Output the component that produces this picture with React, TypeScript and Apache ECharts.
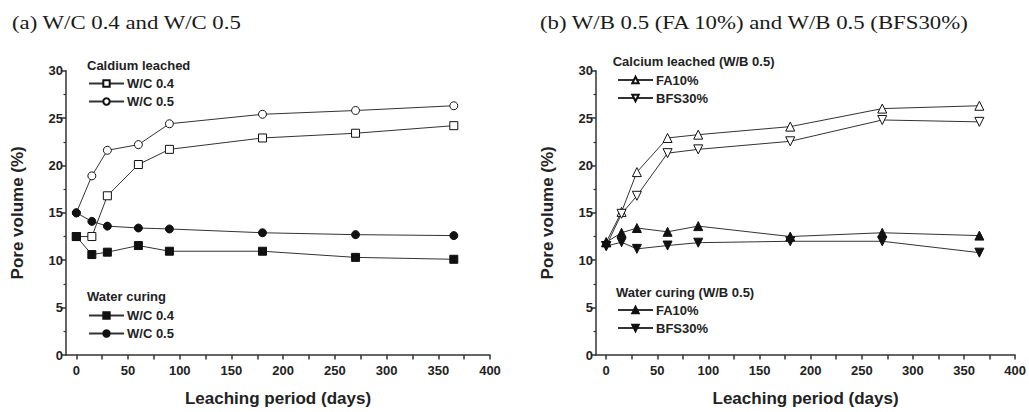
import React, { useEffect, useRef } from "react";
import * as echarts from "echarts";

const daysA = [0, 15, 30, 60, 90, 180, 270, 365];
const leachedWC04 = [12.5, 12.5, 16.8, 20.1, 21.7, 22.9, 23.4, 24.2];
const leachedWC05 = [15.0, 18.9, 21.6, 22.2, 24.4, 25.4, 25.8, 26.3];
const waterWC04 = [12.5, 10.6, 10.85, 11.55, 10.95, 10.95, 10.3, 10.1];
const waterWC05 = [15.0, 14.1, 13.6, 13.4, 13.3, 12.9, 12.7, 12.6];

const daysB = [0, 15, 30, 60, 90, 180, 270, 365];
const leachedFA10 = [11.9, 15.1, 19.3, 22.9, 23.25, 24.1, 26.0, 26.3];
const leachedBFS30 = [11.5, 14.9, 16.8, 21.3, 21.7, 22.55, 24.8, 24.6];
const waterFA10 = [11.9, 12.9, 13.4, 13.0, 13.6, 12.5, 12.9, 12.6];
const waterBFS30 = [11.5, 11.9, 11.2, 11.55, 11.85, 12.0, 12.0, 10.8];

const xLabelTicks = [0, 50, 100, 150, 200, 250, 300, 350, 400];
const xAllTicks = [0, 25, 50, 75, 100, 125, 150, 175, 200, 225, 250, 275, 300, 325, 350, 375, 400];

const TEXT = "#222";
const LINE = "#333";
const FONT = "'Liberation Sans', Arial, sans-serif";

function pair(a: number[], b: number[]) {
  return a.map((d, i) => [d, b[i]]);
}

export default function App() {
  const ref = useRef<HTMLDivElement>(null);
  useEffect(() => {
    if (!ref.current) return;
    const chart = echarts.init(ref.current, null, { renderer: "svg" });

    const grids = [
      { left: 66, width: 424, top: 70.7, height: 286.3 },
      { left: 596, width: 421, top: 70.7, height: 286.3 },
    ];

    const xAxes: any[] = [];
    const yAxes: any[] = [];
    [0, 1].forEach((g) => {
      xAxes.push({
        type: "value",
        gridIndex: g,
        position: "bottom",
        min: -10,
        max: 400,
        name: "Leaching period (days)",
        nameLocation: "middle",
        nameGap: 35,
        nameTextStyle: { fontFamily: FONT, fontWeight: "bold", fontSize: 17, color: TEXT },
        axisLine: { show: true, onZero: false, lineStyle: { color: LINE, width: 1.5 } },
        axisTick: { show: true, length: 4.5, customValues: xAllTicks, lineStyle: { color: LINE, width: 1.5 } },
        axisLabel: { show: true, customValues: xLabelTicks, margin: 9, fontFamily: FONT, fontWeight: "bold", fontSize: 13, color: TEXT },
        splitLine: { show: false },
      });
      yAxes.push({
        type: "value",
        gridIndex: g,
        min: 0,
        max: 30,
        interval: 5,
        name: "Pore volume (%)",
        nameLocation: "middle",
        nameGap: 40,
        nameTextStyle: { fontFamily: FONT, fontWeight: "bold", fontSize: 17, color: TEXT },
        axisLine: { show: true, onZero: false, lineStyle: { color: LINE, width: 1.5 } },
        axisTick: { show: true, length: 5, lineStyle: { color: LINE, width: 1.5 } },
        minorTick: { show: true, splitNumber: 2, length: 2.5, lineStyle: { color: LINE, width: 1.2 } },
        axisLabel: { margin: 3, fontFamily: FONT, fontWeight: "bold", fontSize: 13, color: TEXT },
        splitLine: { show: false },
      });
    });

    const mk = (name: string, days: number[], vals: number[], g: number, symbol: string, filled: boolean, rotate = 0, size = 8) => ({
      type: "line",
      name,
      xAxisIndex: g,
      yAxisIndex: g,
      data: pair(days, vals),
      symbol,
      symbolSize: size,
      symbolRotate: rotate,
      showAllSymbol: true,
      lineStyle: { color: LINE, width: 1 },
      itemStyle: { color: filled ? "#111" : "#fff", borderColor: "#111", borderWidth: 1 },
    });

    const series = [
      mk("L|W/C 0.4", daysA, leachedWC04, 0, "rect", false),
      mk("L|W/C 0.5", daysA, leachedWC05, 0, "circle", false),
      mk("W|W/C 0.4", daysA, waterWC04, 0, "rect", true),
      mk("W|W/C 0.5", daysA, waterWC05, 0, "circle", true),
      mk("L|FA10%", daysB, leachedFA10, 1, "triangle", false, 0, 9),
      mk("L|BFS30%", daysB, leachedBFS30, 1, "triangle", false, 180, 9),
      mk("W|FA10%", daysB, waterFA10, 1, "triangle", true, 0, 9),
      mk("W|BFS30%", daysB, waterBFS30, 1, "triangle", true, 180, 9),
    ];

    const legendBase = {
      orient: "vertical",
      padding: 0,
      itemWidth: 35,
      itemHeight: 8,
      itemGap: 5,
      selectedMode: false,
      formatter: (n: string) => n.split("|")[1],
      textStyle: { fontFamily: FONT, fontWeight: "bold", fontSize: 13, color: TEXT, padding: [0, 0, 0, -2] },
    };

    const legends = [
      { ...legendBase, left: 88, top: 77, data: ["L|W/C 0.4", "L|W/C 0.5"] },
      { ...legendBase, left: 88, top: 309, data: ["W|W/C 0.4", "W|W/C 0.5"] },
      { ...legendBase, left: 617, top: 73.5, data: ["L|FA10%", "L|BFS30%"] },
      { ...legendBase, left: 617, top: 303.5, data: ["W|FA10%", "W|BFS30%"] },
    ];

    const headStyle = { fontFamily: FONT, fontWeight: "bold", fontSize: 13, fill: TEXT, verticalAlign: "middle" };
    const titleStyle = { fontFamily: "'Liberation Serif', 'Times New Roman', serif", fontSize: 19, fill: "#1a1a1a", verticalAlign: "middle" };

    chart.setOption({
      animation: false,
      backgroundColor: "#fff",
      grid: grids,
      xAxis: xAxes,
      yAxis: yAxes,
      series,
      legend: legends,
      graphic: [
        { type: "text", x: 12, y: 23, scaleX: 1.2, style: { text: "(a) W/C 0.4 and W/C 0.5", ...titleStyle } },
        { type: "text", x: 540, y: 23, scaleX: 1.2, style: { text: "(b) W/B 0.5 (FA 10%) and W/B 0.5 (BFS30%)", ...titleStyle } },
        { type: "text", x: 87, y: 65, style: { text: "Caldium leached", ...headStyle } },
        { type: "text", x: 87, y: 296.7, style: { text: "Water curing", ...headStyle } },
        { type: "text", x: 612.7, y: 61.7, style: { text: "Calcium leached (W/B 0.5)", ...headStyle } },
        { type: "text", x: 616, y: 292.3, style: { text: "Water curing (W/B 0.5)", ...headStyle } },
      ],
    });

    return () => chart.dispose();
  }, []);

  return <div ref={ref} style={{ width: 1029, height: 412, position: "absolute", left: 0, top: 0 }} />;
}
